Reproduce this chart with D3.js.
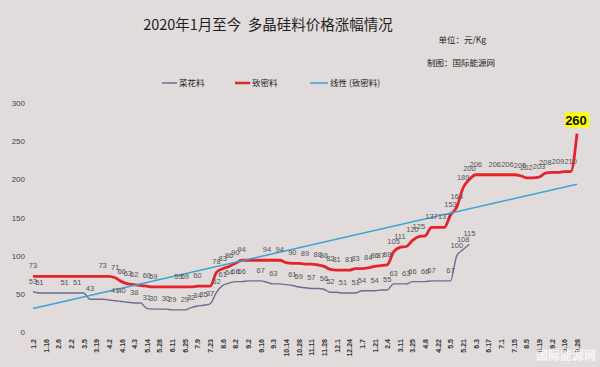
<!DOCTYPE html>
<html><head><meta charset="utf-8">
<script src="https://cdn.jsdelivr.net/npm/d3@7/dist/d3.min.js"></script>
<style>html,body{margin:0;padding:0;background:#e1dbdb;}svg{display:block;}</style>
</head><body>
<svg id="chart" width="600" height="367"></svg>
<script>
// ---- data ----
const categories = [
 "1.2","1.9","1.16","1.23","2.6","2.13","2.2","2.27","3.5","3.12","3.19","3.26","4.2","4.9","4.16","4.23","4.3","5.7","5.14","5.21",
 "5.28","6.4","6.11","6.18","6.25","7.2","7.9","7.16","7.23","7.30","8.6","8.13","8.2","8.27","9.2","9.9","9.16","9.23","9.3","10.9",
 "10.14","10.21","10.28","11.4","11.11","11.18","11.28","12.3","12.1","12.17","12.24","12.31","1.7","1.14","1.21","1.28","2.4","3.4","3.11","3.18",
 "3.25","4.1","4.8","4.15","4.22","4.29","5.5","5.12","5.21","5.26","6.3","6.9","6.17","6.23","7.1","7.7","7.15","7.21","8.5","8.11",
 "8.19","8.25","9.2","9.8","9.16","9.22","9.28"
];
const tickLabels = ["1.2","1.16","2.6","2.2","3.5","3.19","4.2","4.16","4.3","5.14","5.28","6.11","6.25","7.9","7.23","8.6","8.2","9.2","9.16","9.3","10.14","10.28",
 "11.11","11.28","12.1","12.24","1.7","1.21","2.4","3.11","3.25","4.8","4.22","5.5","5.21","6.3","6.17","7.1","7.15","8.5","8.19","9.2","9.16","9.28"];
// 致密料
const dense = [
 73,73,73,73,73,73,73,73,73,73,73,73,73,71,66,63,62,61,60,59,
 59,59,59,59,59,59,60,60,60,78,83,86,90,94,94,94,94,94,94,94,
 91,90,90,89,89,88,86,82,81,81,81,83,83,84,86,87,88,105,111,112,
 120,125,126,137,137,137,153,164,189,200,206,206,206,206,206,206,206,205,202,202,
 203,208,209,209,210,210,260
];
// 菜花料
const cauliflower = [
 53,51,51,51,51,51,51,51,51,43,43,43,42,41,40,39,38,38,31,30,
 30,30,29,29,29,32,34,35,37,52,61,64,66,66,67,67,67,65,63,63,
 62,61,59,58,57,57,56,52,52,51,51,51,54,54,54,55,55,63,63,63,
 66,66,66,67,67,67,67,100,108,115
];
const denseLabelIdx = [0,11,13,14,15,16,18,19,23,24,26,29,30,31,32,33,37,39,41,43,45,46,47,48,50,51,53,54,55,56,57,58,60,61,63,65,66,67,68,69,70,73,75,77,78,80,81,83,85];
const cauliLabelIdx = [0,1,5,7,9,13,14,16,18,19,21,22,24,25,26,27,28,29,30,31,32,33,36,38,41,42,44,46,47,49,51,52,54,56,57,59,60,62,63,66,67,68,69];
const yTicks = [0,50,100,150,200,250,300];
const seriesNames = ["菜花料","致密料","线性 (致密料)"];
const title = "2020年1月至今  多晶硅料价格涨幅情况";
const unitText = "单位：元/Kg";
const sourceText = "制图：国际能源网";

// ---- drawing ----
const svg = d3.select("#chart");
const W = 600, H = 367;
const colors = {cauli:"#6b6e92", dense:"#e5232a", trend:"#3aa3d8"};
const cjk = "'Noto Sans CJK SC','Noto Sans',sans-serif";
const lat = "'Liberation Sans',Arial,sans-serif";

svg.append("rect").attr("width",W).attr("height",H).attr("fill","#e1dbdb");

const idx = d3.range(categories.length);
const x = d3.scalePoint().domain(idx).range([33,577]);
const y = d3.scaleLinear().domain([0,300]).range([332,103]);

// title & notes
svg.append("text").attr("x",268).attr("y",30).attr("text-anchor","middle").style("white-space","pre")
  .attr("font-family",cjk).attr("font-size",14.5).attr("fill","#1e1e1e").text(title);
svg.append("text").attr("x",486).attr("y",43).attr("text-anchor","end")
  .attr("font-family",cjk).attr("font-size",8.5).attr("fill","#222").text(unitText);
svg.append("text").attr("x",495).attr("y",66).attr("text-anchor","end")
  .attr("font-family",cjk).attr("font-size",8.5).attr("fill","#222").text(sourceText);

// legend
const legend = [
  {name:seriesNames[0], color:colors.cauli, x1:162, x2:177, w:1.5},
  {name:seriesNames[1], color:colors.dense, x1:235, x2:250, w:2.5},
  {name:seriesNames[2], color:colors.trend, x1:310, x2:328, w:1.5}
];
const lg = svg.append("g");
legend.forEach(l=>{
  lg.append("line").attr("x1",l.x1).attr("x2",l.x2).attr("y1",83).attr("y2",83)
    .attr("stroke",l.color).attr("stroke-width",l.w);
  lg.append("text").attr("x",l.x2+2).attr("y",86).attr("font-family",cjk)
    .attr("font-size",8.5).attr("fill","#222").text(l.name);
});

// y axis
const yAxis = d3.axisLeft(y).tickValues(yTicks).tickSize(0).tickPadding(0);
const yg = svg.append("g").attr("transform","translate(25,0)").call(yAxis);
yg.select(".domain").remove();
yg.selectAll("text").attr("font-family",lat).attr("font-size",8).attr("fill","#444");

// x axis
const tickIdx = idx.filter(i=>i%2===0);
const xAxis = d3.axisBottom(x).tickValues(tickIdx).tickSize(0)
  .tickFormat(i=>tickLabels[tickIdx.indexOf(i)]);
const xg = svg.append("g").attr("transform","translate(0,338)").call(xAxis);
xg.select(".domain").remove();
xg.selectAll("text").attr("font-family",lat).attr("font-size",7).attr("font-weight","bold")
  .attr("fill","#333").attr("text-anchor","end")
  .attr("transform","rotate(-90)").attr("x",-1).attr("y",0).attr("dy","0.35em");

// trend line (linear fit of 致密料)
const n = dense.length;
const mx = d3.mean(idx), my = d3.mean(dense);
let sxy=0, sxx=0;
idx.forEach(i=>{sxy+=(i-mx)*(dense[i]-my); sxx+=(i-mx)*(i-mx);});
const slope = sxy/sxx, icpt = my - slope*mx;

// lines
const line = d3.line().x(d=>x(d[0])).y(d=>y(d[1])).curve(d3.curveMonotoneX);
svg.append("path").datum(cauliflower.map((v,i)=>[i,v])).attr("d",line)
  .attr("fill","none").attr("stroke",colors.cauli).attr("stroke-width",1.4);
svg.append("path").datum(dense.map((v,i)=>[i,v])).attr("d",line)
  .attr("fill","none").attr("stroke",colors.dense).attr("stroke-width",2.8).attr("stroke-linejoin","round");
svg.append("line").attr("x1",x(0)).attr("y1",y(icpt)).attr("x2",x(n-1)).attr("y2",y(icpt+slope*(n-1)))
  .attr("stroke",colors.trend).attr("stroke-width",1.5);

// data labels
const lab = svg.append("g").attr("font-family",lat).attr("font-size",7.5).attr("fill","#555").attr("text-anchor","middle");
cauliLabelIdx.forEach(i=>{
  lab.append("text").attr("x",x(i)).attr("y",y(cauliflower[i])-8).text(cauliflower[i]);
});
denseLabelIdx.forEach(i=>{
  lab.append("text").attr("x",x(i)).attr("y",y(dense[i])-8).text(dense[i]);
});
// highlighted last value
const li = n-1;
svg.append("rect").attr("x",x(li)-12).attr("y",y(dense[li])-21).attr("width",24).attr("height",15).attr("fill","#ffff00");
svg.append("text").attr("x",x(li)-1).attr("y",y(dense[li])-9).attr("text-anchor","middle")
  .attr("font-family",lat).attr("font-weight","bold").attr("font-size",13).attr("fill","#111").text(dense[li]);

// watermark text
svg.append("text").attr("x",596).attr("y",360).attr("text-anchor","end").attr("font-family",cjk)
  .attr("font-size",12).attr("font-weight","bold").attr("fill","#ffffff").attr("opacity",0.8).text("国际能源网");
</script>
</body></html>
